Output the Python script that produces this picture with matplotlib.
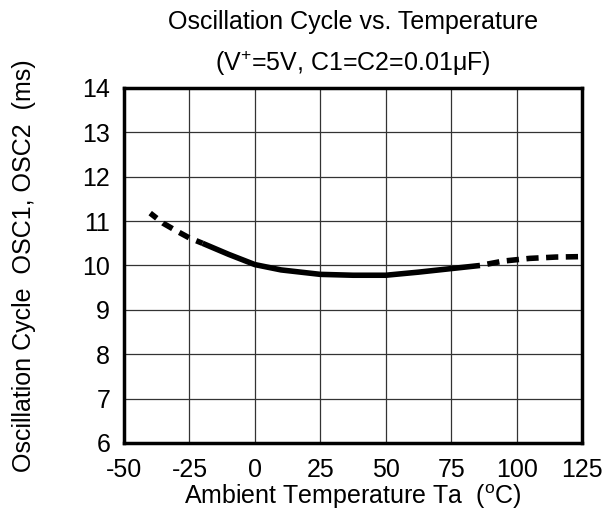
import matplotlib.pyplot as plt

plt.rcParams['font.family'] = ['Liberation Sans', 'DejaVu Sans']
plt.rcParams['axes.unicode_minus'] = False

# readings
temp_lo = [-40, -35, -30, -25, -20]
val_lo = [11.18, 10.95, 10.78, 10.62, 10.5]
temp_mid = [-20, -10, 0, 10, 25, 37.5, 50, 62.5, 75, 86]
val_mid = [10.5, 10.25, 10.02, 9.9, 9.8, 9.78, 9.78, 9.85, 9.93, 10.0]
temp_hi = [86, 95, 105, 115, 125]
val_hi = [10.0, 10.1, 10.16, 10.19, 10.2]

xticks = [-50, -25, 0, 25, 50, 75, 100, 125]
yticks = [6, 7, 8, 9, 10, 11, 12, 13, 14]

fig = plt.figure(figsize=(6.14, 5.24), dpi=100)
ax = fig.add_axes([0.202, 0.1546, 0.746, 0.6775])

ax.plot(temp_lo, val_lo, color='black', lw=4, linestyle=(0.5, (2.0, 1.4)))
ax.plot(temp_mid, val_mid, color='black', lw=4, solid_capstyle='butt')
ax.plot(temp_hi, val_hi, color='black', lw=4, linestyle=(2.2, (2.2, 1.35)))

ax.set_xlim(-50, 125)
ax.set_ylim(6, 14)
ax.set_xticks(xticks)
ax.set_yticks(yticks)
ax.tick_params(axis='x', length=0, labelsize=18, pad=11)
ax.tick_params(axis='y', length=0, labelsize=18, pad=10)
ax.grid(True, color='#333333', lw=0.9)
for s in ax.spines.values():
    s.set_linewidth(2.5)

ax.set_xlabel('Ambient Temperature Ta  ($\\mathregular{^{o}}$C)', fontsize=18, labelpad=0)
fig.text(0.039, 0.493, 'Oscillation Cycle  OSC1, OSC2  (ms)', rotation=90,
         ha='center', va='center', fontsize=18)
fig.text(0.575, 0.958, 'Oscillation Cycle vs. Temperature', ha='center', va='center', fontsize=18)
fig.text(0.575, 0.879, '(V$\\mathregular{^{+}}$=5V, C1=C2=0.01\u03bcF)', ha='center', va='center', fontsize=18)

fig.savefig('out.png', dpi=100)
